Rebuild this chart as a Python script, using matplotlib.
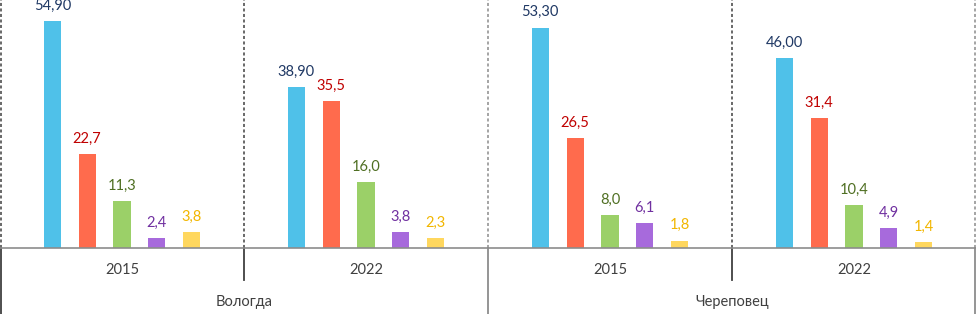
import matplotlib
matplotlib.use("Agg")
import matplotlib.pyplot as plt
import matplotlib.transforms as mtransforms

cities = ["Вологда", "Череповец"]
years = ["2015", "2022"]
# five series per (city, year) group, in order
series_vals = [
    [54.90, 38.90, 53.30, 46.00],
    [22.7, 35.5, 26.5, 31.4],
    [11.3, 16.0, 8.0, 10.4],
    [2.4, 3.8, 6.1, 4.9],
    [3.8, 2.3, 1.8, 1.4],
]
series_decimals = [2, 1, 1, 1, 1]
bar_colors = ["#4FC1E9", "#FF6B4D", "#9BD068", "#A76ADC", "#FFD75E"]
label_colors = ["#1F3864", "#C00000", "#4F6F22", "#7030A0", "#F2B600"]

plt.rcParams['font.family'] = ['Lato', 'DejaVu Sans']

fig = plt.figure(figsize=(9.76, 3.14), dpi=100)
ax = fig.add_axes([0, 66 / 314, 1, 248 / 314])

slots = 7
ngroups = len(cities) * len(years)
for s, (vals, dec) in enumerate(zip(series_vals, series_decimals)):
    xs = [g * slots + 1.5 + s for g in range(ngroups)]
    ax.bar(xs, vals, width=0.49, color=bar_colors[s], zorder=2)
    for x, v in zip(xs, vals):
        txt = f"{v:.{dec}f}".replace(".", ",")
        ax.annotate(txt, (x, v), xytext=(0, 6), textcoords="offset points",
                    ha="center", va="bottom", fontsize=10.5,
                    color=label_colors[s], annotation_clip=False)

ax.set_xlim(0, ngroups * slots)
ax.set_ylim(0, 60)
for sp in ["top", "left", "right"]:
    ax.spines[sp].set_visible(False)
ax.spines["bottom"].set_color("#8C8C8C")
ax.spines["bottom"].set_linewidth(1.2)
ax.set_xticks([])
ax.set_yticks([])

trans = mtransforms.blended_transform_factory(ax.transData, ax.transAxes)
# separators
for g in range(ngroups + 1):
    x = g * slots
    major = (g % len(years) == 0)
    col = "#8C8C8C" if (major and g not in (0,)) else "#404040"
    xx = x + (0.04 if g == 0 else (-0.04 if g == ngroups else 0))
    ax.plot([xx, xx], [0, 1], transform=trans, color=col, lw=1.1,
            linestyle=(0, (2, 1.6)), clip_on=False, zorder=1)
    ybot = -66 / 248 if major else -32 / 248
    ax.plot([xx, xx], [0, ybot], transform=trans, color=col, lw=1.3,
            clip_on=False, zorder=1)

# year labels
for g in range(ngroups):
    ax.text(g * slots + slots / 2, -22 / 248, years[g % len(years)],
            transform=trans, ha="center", va="center", fontsize=10.5,
            color="#404040")
# city labels
for c, city in enumerate(cities):
    ax.text((c * len(years) + len(years) / 2) * slots, -54 / 248, city,
            transform=trans, ha="center", va="center", fontsize=10.5,
            color="#404040")

fig.savefig("out.png", dpi=100)
